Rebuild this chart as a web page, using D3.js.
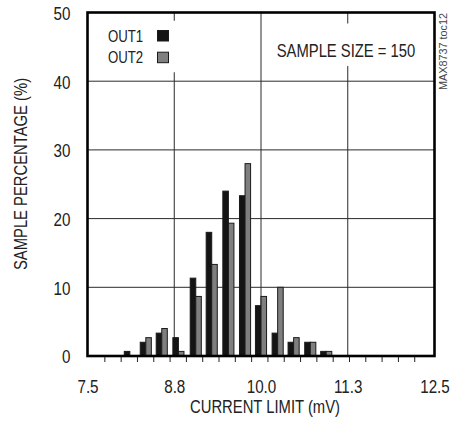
<!DOCTYPE html>
<html>
<head>
<meta charset="utf-8">
<script src="https://cdn.jsdelivr.net/npm/d3@7"></script>
<style>
  html, body { margin: 0; padding: 0; background: #fff; }
  svg { display: block; }
</style>
</head>
<body>
<div id="chart"></div>
<script>
// histogram bins (bin centre, mV) and sample percentages
var binCenters = [8.11, 8.34, 8.57, 8.81, 9.06, 9.29, 9.53, 9.77, 10.00, 10.24, 10.47, 10.71, 10.94];
var out1 = [0.67, 2.0, 3.33, 2.67, 11.33, 18.0, 24.0, 23.33, 7.33, 3.33, 2.0, 2.0, 0.67];
var out2 = [0, 2.67, 4.0, 0.67, 8.67, 13.33, 19.33, 28.0, 8.67, 10.0, 2.67, 2.0, 0.67];
var binEdges = [7.75, 7.985, 8.22, 8.455, 8.69, 8.925, 9.16, 9.395, 9.63, 9.865, 10.10,
                10.335, 10.57, 10.805, 11.04, 11.275, 11.51, 11.745, 11.98, 12.215];
var xTicks = [7.5, 8.75, 10, 11.25, 12.5];
var xTickLabels = ['7.5', '8.8', '10.0', '11.3', '12.5'];
var yTicks = [0, 10, 20, 30, 40, 50];
var seriesNames = ['OUT1', 'OUT2'];

(function() {
  // no narrow font installed: squeeze Liberation Sans horizontally
  var FONT = '"Liberation Sans", Arial, sans-serif';
  var SQ = 'scale(0.8,1)';
  var w = 460, h = 422;
  var left = 87.5, right = 434.5, top = 12.5, bottom = 356;
  var colors = ['#141414', '#7f7f7f'];

  var svg = d3.select('#chart').append('svg').attr('width', w).attr('height', h);

  var x = d3.scaleLinear().domain([7.5, 12.5]).range([left, right]);
  var y = d3.scaleLinear().domain([0, 50]).range([bottom, top]);

  function label(tx, ty, str, size, anchor, rot) {
    return svg.append('text')
      .attr('transform', 'translate(' + tx + ',' + ty + ')' + (rot ? ' rotate(' + rot + ')' : '') + ' ' + SQ)
      .attr('text-anchor', anchor || 'start').attr('fill', '#222')
      .attr('font-size', size + 'px').attr('font-family', FONT).text(str);
  }

  // Grid
  svg.append('g').selectAll('line').data(yTicks.slice(1, -1)).join('line')
    .attr('x1', left).attr('x2', right)
    .attr('y1', function(d) { return y(d); }).attr('y2', function(d) { return y(d); })
    .attr('stroke', '#2a2a2a').attr('stroke-width', 1);
  svg.append('g').selectAll('line').data(xTicks.slice(1, -1)).join('line')
    .attr('y1', top).attr('y2', bottom)
    .attr('x1', function(d) { return x(d); }).attr('x2', function(d) { return x(d); })
    .attr('stroke', '#2a2a2a').attr('stroke-width', 1);

  // white boxes behind the in-plot texts
  svg.append('rect').attr('x', x(7.7)).attr('y', y(48.8)).attr('width', x(8.95) - x(7.7)).attr('height', y(41.3) - y(48.8)).attr('fill', '#fff');
  svg.append('rect').attr('x', x(10.8)).attr('y', y(48.4)).attr('width', x(12.2) - x(10.8)).attr('height', y(42.2) - y(48.4)).attr('fill', '#fff');

  // Minor ticks (bin edges) below the axis
  svg.append('g').selectAll('line').data(binEdges).join('line')
    .attr('x1', function(d) { return x(d); }).attr('x2', function(d) { return x(d); })
    .attr('y1', bottom).attr('y2', bottom + 6)
    .attr('stroke', '#222').attr('stroke-width', 1);

  // Bars
  var bw = x(7.58) - x(7.5);
  var rows = binCenters.map(function(c, i) { return { c: c, v: [out1[i], out2[i]] }; });
  [0, 1].forEach(function(s) {
    svg.append('g').selectAll('rect').data(rows.filter(function(d) { return d.v[s] > 0; })).join('rect')
      .attr('x', function(d) { return x(d.c) - (s === 0 ? bw : 0); })
      .attr('y', function(d) { return y(d.v[s]); })
      .attr('width', bw)
      .attr('height', function(d) { return bottom - y(d.v[s]); })
      .attr('fill', colors[s])
      .attr('stroke', '#1a1a1a').attr('stroke-width', 1);
  });

  // Frame
  svg.append('rect').attr('x', left).attr('y', top).attr('width', right - left).attr('height', bottom - top)
    .attr('fill', 'none').attr('stroke', '#000').attr('stroke-width', 2.6);

  // Axes labels
  var xAxis = d3.axisBottom(x).tickValues(xTicks).tickSize(0).tickPadding(0)
    .tickFormat(function(d, i) { return xTickLabels[i]; });
  svg.append('g').attr('transform', 'translate(0,' + (bottom + 37) + ')').call(xAxis)
    .call(function(g) { g.select('.domain').remove(); })
    .call(function(g) { g.selectAll('.tick text').attr('dy', null).attr('y', 0).attr('transform', SQ)
      .attr('fill', '#222').attr('font-size', '19px').attr('font-family', FONT); });

  var yAxis = d3.axisLeft(y).tickValues(yTicks).tickSize(0).tickPadding(0);
  svg.append('g').attr('transform', 'translate(' + (left - 17) + ',0)').call(yAxis)
    .call(function(g) { g.select('.domain').remove(); })
    .call(function(g) { g.selectAll('.tick text').attr('x', 0).attr('dy', '0.36em').attr('transform', SQ)
      .attr('fill', '#222').attr('font-size', '19px').attr('font-family', FONT); });

  // Axis titles
  label((left + right) / 2 + 4, 413, 'CURRENT LIMIT (mV)', 18.5, 'middle');
  label(27, 174, 'SAMPLE PERCENTAGE (%)', 18.5, 'middle', -90);

  // Legend
  seriesNames.forEach(function(name, i) {
    var ly = 41.5 + i * 21.7;
    label(108, ly, name, 16.5);
    svg.append('rect').attr('x', 157.5).attr('y', ly - 11).attr('width', 11).attr('height', 10.5)
      .attr('fill', colors[i]).attr('stroke', '#1a1a1a').attr('stroke-width', 1);
  });

  // Annotation
  label(346, 56.5, 'SAMPLE SIZE = 150', 18.5, 'middle');

  svg.append('text').attr('transform', 'translate(447,90) rotate(-90)')
    .attr('fill', '#444').attr('font-size', '10.5px').attr('font-family', FONT)
    .attr('textLength', 77).attr('lengthAdjust', 'spacingAndGlyphs')
    .text('MAX8737 toc12');
})();
</script>
</body>
</html>
